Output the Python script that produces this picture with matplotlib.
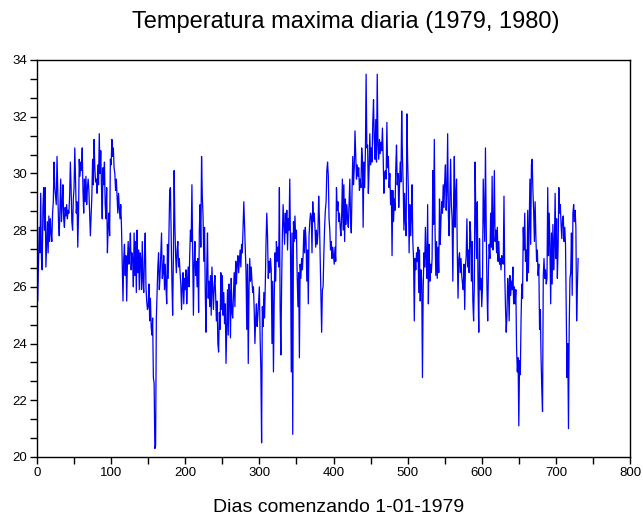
"""
Temperatura maxima diaria (1979, 1980) - serie diaria leida del grafico.
"""

import numpy as np
import matplotlib.pyplot as plt
from matplotlib.ticker import FixedLocator, MultipleLocator

plt.rcParams['font.family'] = ['Liberation Sans', 'DejaVu Sans']

# --- Temperaturas maximas (grados), un valor por dia desde 1-01-1979 ---
tmax_1979 = [
    26.5, 25.5, 26.8, 28.1, 27.2, 29.3, 27.0, 26.6, 28.8, 29.5,
    28.0, 29.5, 26.7, 27.5, 28.3, 27.2, 28.5, 27.6, 28.4, 27.9,
    27.6, 28.6, 29.0, 30.4, 29.5, 29.2, 28.9, 30.6, 29.4, 28.3,
    27.8, 28.8, 29.8, 28.3, 28.9, 29.6, 28.4, 28.1, 28.8, 28.5,
    28.9, 28.4, 28.7, 28.6, 29.2, 30.4, 29.5, 28.3, 28.0, 29.1,
    29.5, 30.9, 29.8, 28.6, 29.0, 27.4, 28.5, 30.5, 29.9, 30.4,
    30.1, 30.9, 29.4, 28.6, 29.8, 29.0, 29.9, 28.9, 29.5, 29.8,
    29.4, 28.6, 27.8, 28.5, 29.2, 30.5, 29.6, 31.2, 30.2, 29.7,
    29.8, 29.3, 30.3, 29.6, 31.4, 30.0, 30.8, 29.5, 28.4, 30.2,
    29.6, 30.4, 28.9, 28.4, 29.5, 27.2, 28.1, 28.6, 27.8, 30.5,
    30.3, 31.2, 30.6, 30.9, 30.2, 30.0, 29.4, 29.8, 29.2, 28.6,
    29.3, 28.8, 28.4, 28.9, 28.1, 26.7, 25.5, 27.0, 27.5, 26.4,
    27.1, 25.5, 26.9, 27.6, 26.8, 27.3, 27.9, 26.6, 27.2, 27.0,
    26.0, 27.9, 26.4, 27.6, 25.8, 28.0, 26.5, 27.3, 25.9, 27.2,
    27.0, 25.9, 27.6, 26.2, 25.8, 27.1, 27.9, 26.0, 25.5, 25.2,
    25.3, 26.1, 24.8, 25.6, 24.6, 24.3, 24.9, 22.8, 22.6, 20.3,
    20.4, 24.9, 25.8, 26.7, 27.2, 25.9, 26.4, 27.1, 27.9, 26.3,
    26.5, 27.1, 25.9, 26.8, 26.0, 25.4, 27.5, 26.3, 27.8, 29.4,
    29.5, 27.8, 26.2, 25.0, 27.0, 30.1, 28.2, 27.1, 26.5, 27.3,
    27.6, 26.7, 27.0, 26.5, 26.1, 25.2, 26.0, 26.5, 25.4, 26.3,
    25.9, 26.6, 25.4, 26.2, 26.7, 26.0, 27.1, 28.0, 27.6, 29.6,
    27.3, 25.0, 26.8, 27.6, 26.4, 26.9, 26.0, 27.0, 25.1, 28.0,
    28.9, 27.4, 30.6, 29.2, 28.5, 26.9, 28.1, 25.8, 24.4, 26.6,
    27.9, 25.6, 26.2, 25.3, 26.4, 25.0, 26.7, 25.9, 25.2, 26.0,
    26.4, 25.7, 24.8, 25.5, 24.0, 23.7, 25.1, 24.5, 26.5, 25.2,
    26.4, 25.0, 25.8, 24.7, 25.4, 23.3, 24.6, 25.9, 24.3, 26.1,
    25.8, 24.2, 26.3, 25.1, 24.9, 25.7, 26.5, 25.3, 26.9, 26.1,
    26.8, 27.1, 26.5, 26.9, 27.3, 26.7, 27.5, 27.2, 28.1, 29.0,
    28.2, 27.3, 26.5, 24.5, 26.8, 23.3, 25.9, 27.0, 26.2, 26.7,
    26.2, 25.8, 26.0, 25.2, 24.0, 24.9, 25.4, 24.6, 25.0, 25.5,
    26.0, 24.2, 23.1, 20.5, 25.3, 24.6, 25.8, 24.9, 26.1, 27.6,
    28.6, 27.8, 26.3, 26.9, 26.5, 27.0, 26.6, 24.0, 26.2, 23.0,
    25.5, 27.2, 26.2, 27.6, 26.9, 27.4, 26.7, 29.5, 25.3, 23.6,
    26.1, 27.8, 28.9, 28.2, 27.5, 28.6, 27.9, 28.7, 27.3, 28.4,
    28.0, 29.8, 27.4, 23.0, 27.9, 20.8, 28.3, 27.6, 28.5, 27.7,
    28.0, 26.4, 25.3, 26.5, 23.5, 26.8, 26.3, 27.0, 26.6, 27.1,
    28.0, 27.2, 28.1, 27.6, 26.2,
]

tmax_1980 = [
    27.3, 25.4, 27.8, 28.3, 28.6,
    28.5, 27.2, 29.0, 28.3, 28.6, 28.1, 27.4, 28.0, 27.5, 27.9,
    29.2, 28.4, 27.0, 25.7, 24.4, 25.9, 26.0, 27.2, 28.1, 28.7,
    29.0, 30.1, 30.4, 29.9, 28.4, 28.0, 27.3, 27.6, 27.0, 27.4,
    27.1, 26.8, 27.4, 26.9, 29.5, 28.7, 29.0, 28.3, 28.6, 28.1,
    27.8, 28.5, 29.8, 28.0, 29.6, 27.6, 29.1, 28.2, 28.9, 28.4,
    28.1, 29.0, 29.8, 28.4, 27.9, 29.4, 30.6, 29.6, 30.2, 31.5,
    30.6, 29.8, 30.3, 29.9, 30.2, 29.4, 29.8, 29.5, 30.9, 30.5,
    28.1, 30.4, 29.5, 30.7, 33.5, 30.9, 31.0, 29.3, 30.1, 31.4,
    30.3, 30.9, 30.4, 31.8, 32.6, 31.2, 30.5, 31.9, 30.4, 33.5,
    31.0, 30.5, 31.2, 30.7, 31.1, 30.8, 31.6, 30.6, 29.3, 30.0,
    30.1, 29.8, 31.8, 30.2, 30.6, 29.5, 30.0, 28.9, 29.4, 27.1,
    29.4, 28.3, 29.1, 28.7, 30.2, 31.0, 29.6, 30.0, 28.8, 29.5,
    30.4, 29.7, 32.2, 30.6, 29.6, 28.0, 29.3, 28.3, 27.8, 32.1,
    30.5, 29.4, 27.2, 28.9, 27.8, 28.4, 29.6, 27.6, 27.0, 24.8,
    27.0, 26.6, 27.2, 26.9, 27.4, 25.8, 27.3, 25.5, 26.6, 26.2,
    22.8, 25.9, 27.2, 26.7, 28.1, 27.0, 26.3, 28.9, 25.4, 27.5,
    26.2, 26.8, 26.5, 27.0, 30.1, 28.2, 31.2, 28.0, 26.4, 27.6,
    26.3, 27.4, 26.5, 29.1, 27.5, 28.4, 29.0, 28.6, 29.6, 28.8,
    29.7, 30.3, 28.7, 29.4, 31.4, 28.5, 27.8, 29.2, 30.5, 28.9,
    28.4, 26.2, 29.0, 30.6, 28.1, 29.3, 29.8, 27.2, 25.6, 27.0,
    27.2, 26.5, 27.0, 26.4, 26.1, 25.9, 26.8, 25.2, 26.7, 27.1,
    28.4, 26.7, 27.3, 26.5, 28.3, 27.9, 26.2, 27.6, 25.5, 24.8,
    26.1, 30.4, 28.5, 27.0, 29.0, 26.0, 24.4, 27.7, 25.9, 26.3,
    25.3, 26.0, 29.8, 28.7, 27.6, 30.9, 28.2, 26.0, 24.8, 26.6,
    27.5, 27.0, 28.6, 27.4, 29.9, 27.3, 28.2, 30.1, 27.6, 28.0,
    27.2, 28.1, 26.9, 27.6, 26.8, 27.0, 26.6, 27.1, 26.9, 26.8,
    29.2, 26.5, 25.3, 24.4, 25.0, 26.3, 25.9, 24.8, 26.4, 25.7,
    26.2, 25.9, 26.7, 25.4, 26.0, 25.4, 25.9, 23.8, 23.0, 23.5,
    21.1, 23.4, 22.9, 24.8, 26.1, 25.6, 28.1, 27.3, 28.6, 26.9,
    27.3, 26.2, 28.7, 26.5, 28.2, 29.8, 27.5, 30.3, 30.5, 29.4,
    28.7, 27.6, 29.0, 27.8, 26.9, 27.3, 26.4, 26.8, 24.5, 25.2,
    23.5, 22.4, 21.6, 26.4, 27.0, 26.3, 26.6, 26.1, 26.3, 29.5,
    27.1, 28.6, 27.4, 25.4, 27.9, 26.1, 28.2, 26.6, 27.5, 29.3,
    27.0, 28.4, 26.3, 27.4, 29.5, 28.6, 28.9, 28.2, 27.7, 28.4,
    28.5, 27.6, 28.1, 27.5, 25.2, 22.8, 24.0, 21.0, 24.6, 26.3,
    26.5, 27.9, 25.7, 28.6, 28.9, 28.3, 28.7, 28.1, 24.8, 26.0,
    27.0,
]

tmax = np.array(tmax_1979 + tmax_1980)
dias = np.arange(len(tmax))

x_ticks = [0, 100, 200, 300, 400, 500, 600, 700, 800]
y_ticks = [20, 22, 24, 26, 28, 30, 32, 34]

# --- Figura ---
fig = plt.figure(figsize=(6.43, 5.17), dpi=100)
ax = fig.add_axes([37 / 643, 1 - 457 / 517, (630 - 37) / 643, (457 - 60) / 517])

ax.plot(dias, tmax, color='#0000ff', linewidth=0.9)

ax.set_xlim(0, 800)
ax.set_ylim(20, 34)
ax.set_xticks(x_ticks)
ax.set_yticks(y_ticks)
ax.xaxis.set_minor_locator(MultipleLocator(50))
ax.yaxis.set_minor_locator(FixedLocator(np.arange(20, 34.01, 2 / 3)))
ax.tick_params(which='both', direction='out', length=5, width=1,
               labelsize=9.5, pad=2)

for spine in ax.spines.values():
    spine.set_linewidth(1.0)
    spine.set_color('black')

fig.text(346 / 643, 1 - 22 / 517, 'Temperatura maxima diaria (1979, 1980)',
         ha='center', va='center', fontsize=17)
fig.text(339 / 643, 1 - 507 / 517, 'Dias comenzando 1-01-1979',
         ha='center', va='center', fontsize=14)

plt.savefig('out.png', dpi=100)
